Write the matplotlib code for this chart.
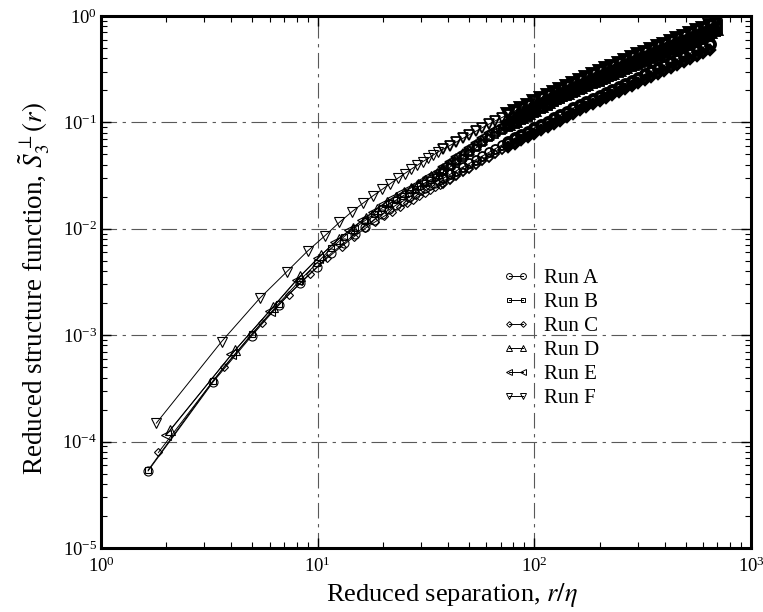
import numpy as np
import matplotlib.pyplot as plt
from matplotlib.lines import Line2D
from matplotlib.ticker import LogLocator, NullFormatter

# ------------------------------------------------------------
# Data
# near range: each run at its own separations r/eta
# far range: dense band, shared r/eta values
# ------------------------------------------------------------
r_far = [38.0, 40.7, 43.7, 46.8, 50.1, 53.7, 57.5, 61.7, 66.1, 70.8, 75.9,
         81.3, 87.1, 93.3, 100, 107, 115, 123, 132, 141, 151, 162, 174, 186,
         200, 214, 229, 245, 263, 282, 302, 324, 347, 372, 398, 427, 457, 490,
         525, 562, 603, 646, 692]

# Run A (circles)
r_a_near = [1.65, 3.3, 4.95, 6.6, 8.25, 9.9, 11.55, 13.2, 14.85, 16.5, 18.15,
            19.8, 21.45, 23.1, 24.75, 26.4, 28.05, 29.7, 31.35, 33.0, 34.65, 36.3]
s_a_near = [5.3e-5, 3.66e-4, 9.8e-4, 1.92e-3, 3.07e-3, 4.35e-3, 5.9e-3, 7.3e-3,
            8.91e-3, 0.0105, 0.0121, 0.0137, 0.0152, 0.0168, 0.0182, 0.0198,
            0.0213, 0.0229, 0.0244, 0.0258, 0.0272, 0.0286]
s_a_far = [0.0299, 0.0324, 0.0351, 0.0380, 0.0411, 0.0445, 0.0482, 0.0522,
           0.0565, 0.0612, 0.0658, 0.0707, 0.0760, 0.0818, 0.0879, 0.0945,
           0.1016, 0.109, 0.117, 0.126, 0.136, 0.146, 0.156, 0.167, 0.178,
           0.190, 0.203, 0.217, 0.231, 0.247, 0.264, 0.282, 0.301, 0.321,
           0.343, 0.366, 0.391, 0.417, 0.446, 0.476, 0.508, 0.543]

# Run B (squares)
r_b_near = r_a_near
s_b_near = [5.4e-5, 3.75e-4, 1.02e-3, 1.98e-3, 3.25e-3, 4.75e-3, 6.55e-3, 8.4e-3,
            0.0102, 0.0119, 0.0138, 0.0157, 0.0173, 0.0187, 0.0204, 0.0219,
            0.0236, 0.0253, 0.0271, 0.0287, 0.0304, 0.0322]
s_b_far = [0.0341, 0.0379, 0.0420, 0.0466, 0.0517, 0.0574, 0.0636, 0.0706,
           0.0764, 0.0827, 0.0896, 0.0967, 0.105, 0.113, 0.123, 0.133, 0.144,
           0.156, 0.166, 0.177, 0.188, 0.200, 0.213, 0.227, 0.241, 0.257,
           0.273, 0.291, 0.310, 0.329, 0.349, 0.370, 0.392, 0.416, 0.440,
           0.466, 0.494, 0.524, 0.555, 0.588, 0.623, 0.660, 0.700]

# Run C (diamonds)
r_c_near = [1.84, 3.68, 5.52, 7.36, 9.2, 11.04, 12.88, 14.72, 16.56, 18.4,
            20.24, 22.08, 23.92, 25.76, 27.6, 29.44, 31.28, 33.12, 34.96, 36.8]
s_c_near = [7.9e-5, 5.0e-4, 1.30e-3, 2.41e-3, 3.74e-3, 5.29e-3, 6.81e-3, 8.43e-3,
            0.0101, 0.0116, 0.0131, 0.0145, 0.0159, 0.0173, 0.0188, 0.0204,
            0.0216, 0.0230, 0.0245, 0.0259]
s_c_far = [0.0266, 0.0288, 0.0312, 0.0338, 0.0366, 0.0396, 0.0429, 0.0465,
           0.0503, 0.0545, 0.0586, 0.0629, 0.0676, 0.0728, 0.0782, 0.0841,
           0.0904, 0.0970, 0.104, 0.112, 0.121, 0.130, 0.139, 0.149, 0.158,
           0.169, 0.181, 0.193, 0.206, 0.220, 0.235, 0.251, 0.268, 0.286,
           0.305, 0.326, 0.348, 0.371, 0.397, 0.424, 0.452, 0.483]

# Run D (triangles up)
r_d_near = [2.08, 4.16, 6.24, 8.32, 10.4, 12.48, 14.56, 16.64, 18.72, 20.8,
            22.88, 24.96, 27.04, 29.12, 31.2, 33.28, 35.36, 37.44]
s_d_near = [1.28e-4, 7.24e-4, 1.85e-3, 3.60e-3, 5.68e-3, 7.96e-3, 0.0102,
            0.0126, 0.0152, 0.0178, 0.0199, 0.0221, 0.0243, 0.0266, 0.0289,
            0.0312, 0.0335, 0.0359]
s_d_far = [0.0367, 0.0407, 0.0452, 0.0501, 0.0556, 0.0617, 0.0684, 0.0759,
           0.0821, 0.0889, 0.0963, 0.104, 0.113, 0.122, 0.132, 0.143, 0.155,
           0.168, 0.179, 0.190, 0.202, 0.215, 0.229, 0.244, 0.259, 0.276,
           0.294, 0.313, 0.333, 0.354, 0.375, 0.398, 0.421, 0.447, 0.473,
           0.501, 0.531, 0.563, 0.597, 0.632, 0.670, 0.710, 0.753]

# Run E (triangles left)
r_e_near = [2, 4, 6, 8, 10, 12, 14, 16, 18, 20, 22, 24, 26, 28, 30, 32, 34, 36]
s_e_near = [1.15e-4, 6.6e-4, 1.69e-3, 3.32e-3, 5.27e-3, 7.49e-3, 9.68e-3,
            0.0120, 0.0145, 0.0170, 0.0194, 0.0215, 0.0237, 0.0259, 0.0284,
            0.0307, 0.0330, 0.0352]
s_e_far = [0.0382, 0.0423, 0.0470, 0.0521, 0.0578, 0.0642, 0.0711, 0.0789,
           0.0854, 0.0925, 0.100, 0.108, 0.118, 0.127, 0.137, 0.149, 0.161,
           0.175, 0.186, 0.198, 0.210, 0.224, 0.238, 0.254, 0.269, 0.287,
           0.306, 0.326, 0.346, 0.368, 0.390, 0.414, 0.438, 0.465, 0.492,
           0.521, 0.552, 0.586, 0.621, 0.657, 0.697, 0.738, 0.783]

# Run F (triangles down)
r_f_near = [1.8, 3.6, 5.4, 7.2, 9.0, 10.8, 12.6, 14.4, 16.2, 18.0, 19.8, 21.6,
            23.4, 25.2, 27.0, 28.8, 30.6, 32.4, 34.2, 36.0]
s_f_near = [1.49e-4, 8.7e-4, 2.22e-3, 3.95e-3, 6.2e-3, 8.6e-3, 0.0115, 0.0145,
            0.0174, 0.0204, 0.0234, 0.0265, 0.0298, 0.0330, 0.0363, 0.0395,
            0.0428, 0.0460, 0.0494, 0.0528]
s_f_far = [0.0561, 0.0606, 0.0655, 0.0708, 0.0765, 0.0826, 0.0892, 0.0964,
           0.1035, 0.111, 0.119, 0.128, 0.137, 0.147, 0.158, 0.169, 0.182,
           0.195, 0.208, 0.221, 0.235, 0.250, 0.266, 0.283, 0.301, 0.321,
           0.341, 0.363, 0.387, 0.411, 0.436, 0.462, 0.490, 0.519, 0.550,
           0.583, 0.618, 0.654, 0.693, 0.735, 0.779, 0.825, 0.875]

labels = ["Run A", "Run B", "Run C", "Run D", "Run E", "Run F"]
markers = ["o", "s", "D", "^", "<", "v"]
msizes = [6.5, 5.0, 4.5, 6.5, 6.5, 6.5]

runs = [
    (r_a_near, s_a_near, s_a_far),
    (r_b_near, s_b_near, s_b_far),
    (r_c_near, s_c_near, s_c_far),
    (r_d_near, s_d_near, s_d_far),
    (r_e_near, s_e_near, s_e_far),
    (r_f_near, s_f_near, s_f_far),
]

# ------------------------------------------------------------
# Styling
# ------------------------------------------------------------
plt.rcParams.update({
    "font.family": "serif",
    "font.serif": ["Liberation Serif", "DejaVu Serif"],
    "mathtext.fontset": "stix",
    "font.size": 14,
})

fig = plt.figure(figsize=(7.63, 6.12), dpi=100)
ax = fig.add_axes([0.1324, 0.1046, 0.8519, 0.8693])

handles = []
for (r_near, s_near, s_far), lab, mk, ms in zip(runs, labels, markers, msizes):
    r_fr = np.array(r_far[:len(s_far)])
    s_fr = np.array(s_far)
    r = np.concatenate([r_near, r_fr])
    s = np.concatenate([s_near, s_fr])
    ax.plot(r, s, color="black", lw=0.7)
    # distinct markers at small separations
    ax.plot(r_near, s_near, ls="none", marker=mk, ms=ms,
            mfc="none", mec="black", mew=0.8)
    # overprinted markers in the band: lighter where they start to merge,
    # solid black further out
    inner = r_fr < 72
    ax.plot(r_fr[inner], s_fr[inner], ls="none", marker=mk, ms=ms,
            mfc="none", mec="black", mew=1.3)
    ax.plot(r_fr[~inner], s_fr[~inner], ls="none", marker=mk, ms=ms,
            mfc="none", mec="black", mew=2.8)
    handles.append(Line2D([], [], color="black", lw=0.7, marker=mk, ms=ms,
                          mfc="none", mec="black", mew=0.7))

ax.set_xscale("log")
ax.set_yscale("log")
ax.set_xlim(1, 1000)
ax.set_ylim(1e-5, 1)

ax.xaxis.set_minor_locator(LogLocator(base=10, subs=np.arange(2, 10)))
ax.yaxis.set_minor_locator(LogLocator(base=10, subs=np.arange(2, 10)))
ax.xaxis.set_minor_formatter(NullFormatter())
ax.yaxis.set_minor_formatter(NullFormatter())

ax.grid(True, which="major", color="0.35", lw=0.8,
        linestyle=(0, (14, 5, 3, 5)))

ax.tick_params(which="both", direction="in", top=True, right=True,
               labelsize=13.5)
ax.tick_params(which="major", length=7, width=1)
ax.tick_params(which="minor", length=4, width=0.8)
ax.tick_params(axis="x", which="major", pad=6)
ax.tick_params(axis="y", which="major", pad=3)
for sp in ax.spines.values():
    sp.set_linewidth(2.2)

ax.set_xlabel(r"Reduced separation, $r/\eta$", fontsize=19)
ax.set_ylabel(r"Reduced structure function, $\tilde{S}_3^{\,\perp}(r)$",
              fontsize=19.5)
ax.xaxis.set_label_coords(0.54, -0.062)
ax.yaxis.set_label_coords(-0.075, 0.487)

ax.legend(handles, labels, loc="upper left", bbox_to_anchor=(0.589, 0.56),
          frameon=False, numpoints=2, markerscale=0.65, handlelength=1.3,
          handletextpad=0.7, labelspacing=0.21, fontsize=15)

fig.savefig("out.png", dpi=100)
plt.close(fig)
